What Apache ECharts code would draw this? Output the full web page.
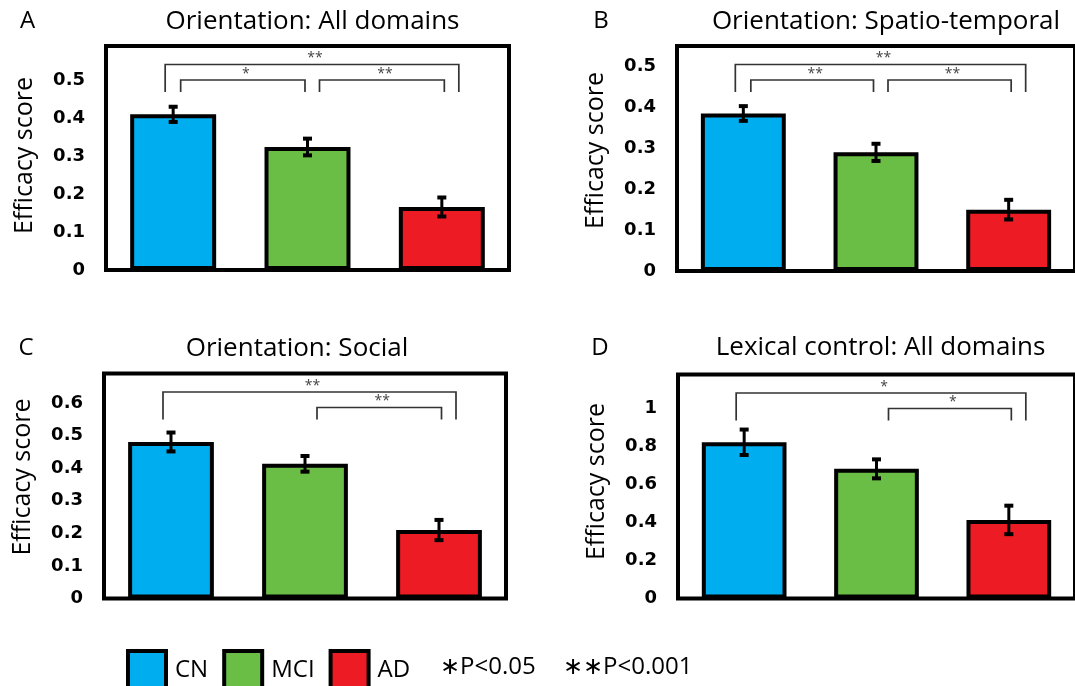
<!DOCTYPE html>
<html><head><meta charset="utf-8">
<script src="https://cdn.jsdelivr.net/npm/echarts@6/dist/echarts.min.js"></script>
<style>html,body{margin:0;padding:0;background:#fff}#c{width:1075px;height:686px}</style>
</head><body><div id="c"></div>
<script>
const groups = ['CN', 'MCI', 'AD'];
const groupColors = ['#00AEEF', '#6ABD45', '#ED1C24'];
const panelLetters = ['A', 'B', 'C', 'D'];
const panelTitles = ['Orientation: All domains', 'Orientation: Spatio-temporal', 'Orientation: Social', 'Lexical control: All domains'];
const yName = 'Efficacy score';

const meanA = [0.41, 0.324, 0.166];
const errA  = [0.02, 0.022, 0.025];
const meanB = [0.385, 0.29, 0.15];
const errB  = [0.018, 0.021, 0.024];
const meanC = [0.48, 0.413, 0.21];
const errC  = [0.029, 0.024, 0.031];
const meanD = [0.823, 0.683, 0.414];
const errD  = [0.067, 0.05, 0.075];

const yMax = [0.59, 0.55, 0.69, 1.18];
const yInterval = [0.1, 0.1, 0.1, 0.2];

// significance brackets: [fromGroup, toGroup, label]
const sigA = [[0, 2, '**'], [0, 1, '*'], [1, 2, '**']];
const sigB = [[0, 2, '**'], [0, 1, '**'], [1, 2, '**']];
const sigC = [[0, 2, '**'], [1, 2, '**']];
const sigD = [[0, 2, '*'], [1, 2, '*']];

const legendNotes = ['\u2217P<0.05', '\u2217\u2217P<0.001'];

const means = [meanA, meanB, meanC, meanD];
const errs = [errA, errB, errC, errD];
const sigs = [sigA, sigB, sigC, sigD];

const gridBoxes = [
  {left: 106, top: 46, width: 403, height: 224},
  {left: 677, top: 46, width: 405, height: 225},
  {left: 104, top: 373.5, width: 402, height: 225},
  {left: 678, top: 374.5, width: 405, height: 224}
];
const namePad = [5, 16, 18, 10];
const letterPos = [[27.5, 21.5], [601, 21.5], [26, 348], [600, 348]];
const titlePos = [[312.5, 21.5], [886, 21.5], [297, 348.3], [880.5, 348]];
const notePos = [[440, 667], [563, 667]];

const FONT = 'Open Sans';

const grids = [], xAxes = [], yAxes = [], series = [], graphics = [];

for (let p = 0; p < 4; p++) {
  grids.push(Object.assign({show: true, borderColor: '#000', borderWidth: 4, backgroundColor: 'transparent', containLabel: false}, gridBoxes[p]));
  xAxes.push({gridIndex: p, type: 'category', data: groups,
    axisLine: {show: false}, axisTick: {show: false}, axisLabel: {show: false}, splitLine: {show: false}});
  yAxes.push({gridIndex: p, type: 'value', min: 0, max: yMax[p], interval: yInterval[p],
    axisLine: {show: false}, axisTick: {show: false}, splitLine: {show: false},
    axisLabel: {showMaxLabel: false, margin: 21, fontSize: 18, fontWeight: 'bold', color: '#000', fontFamily: 'DejaVu Sans'},
    name: yName, nameLocation: 'middle', nameGap: 69,
    nameTextStyle: {fontSize: 25, color: '#000', fontFamily: FONT, padding: [0, 0, 0, namePad[p]]}});
  for (let g = 0; g < 3; g++) {
    series.push({type: 'bar', name: groups[g], xAxisIndex: p, yAxisIndex: p,
      data: groups.map((_, k) => k === g ? means[p][g] : '-'),
      barWidth: '64%', barGap: '-100%',
      itemStyle: {color: groupColors[g], borderColor: '#000', borderWidth: 4},
      z: 2, silent: true});
  }
  const pe = p;
  series.push({type: 'custom', xAxisIndex: p, yAxisIndex: p, z: 5, silent: true, clip: false,
    data: means[p].map((m, k) => [k, m, errs[p][k]]),
    renderItem: function (params, api) {
      const x = api.value(0), m = api.value(1), e = api.value(2);
      const t = api.coord([x, m + e]), b = api.coord([x, m - e]);
      const cw = 9;
      const st = {stroke: '#000', lineWidth: 3};
      const sc = {stroke: '#000', lineWidth: 4};
      return {type: 'group', children: [
        {type: 'line', shape: {x1: t[0], y1: t[1], x2: b[0], y2: b[1]}, style: st},
        {type: 'line', shape: {x1: t[0] - cw / 2, y1: t[1], x2: t[0] + cw / 2, y2: t[1]}, style: sc},
        {type: 'line', shape: {x1: b[0] - cw / 2, y1: b[1], x2: b[0] + cw / 2, y2: b[1]}, style: sc}
      ]};
    }});
  series.push({type: 'custom', xAxisIndex: p, yAxisIndex: p, z: 6, silent: true, clip: false,
    data: sigs[p].map(s => [s[0], 0]),
    renderItem: function (params, api) {
      const s = sigs[pe][params.dataIndex];
      const from = s[0], to = s[1], label = s[2];
      const cs = params.coordSys;
      const outer = (to - from) >= 2;
      const c1 = api.coord([from, 0])[0], c2 = api.coord([to, 0])[0];
      const x1 = c1 + (outer ? -8 : (from === 0 ? 7.5 : 12));
      const x2 = c2 + (outer ? 17 : (to === 1 ? -2.5 : 2.5));
      const yLine = cs.y + (outer ? 18.5 : 34);
      const yLeg = cs.y + 46;
      return {type: 'group', children: [
        {type: 'polyline', shape: {points: [[x1, yLeg], [x1, yLine], [x2, yLine], [x2, yLeg]]},
          style: {stroke: '#333', lineWidth: 1.7, fill: null}},
        {type: 'text', style: {text: label, x: (x1 + x2) / 2 + 3, y: yLine - 6, fill: '#444',
          fontSize: 14, fontFamily: FONT, align: 'center', verticalAlign: 'middle'}}
      ]};
    }});
  graphics.push({type: 'text', x: letterPos[p][0], y: letterPos[p][1],
    style: {text: panelLetters[p], fontSize: 24, fontFamily: FONT, fill: '#000', align: 'center', verticalAlign: 'middle'}});
  graphics.push({type: 'text', x: titlePos[p][0], y: titlePos[p][1],
    style: {text: panelTitles[p], fontSize: 26, fontFamily: FONT, fill: '#000', align: 'center', verticalAlign: 'middle'}});
}
legendNotes.forEach((t, i) => {
  graphics.push({type: 'text', x: notePos[i][0], y: notePos[i][1],
    style: {text: t, fontSize: 24, fontFamily: FONT, fill: '#000', align: 'left', verticalAlign: 'middle'}});
});

const chart = echarts.init(document.getElementById('c'), null, {renderer: 'canvas'});
chart.setOption({
  animation: false,
  backgroundColor: '#fff',
  grid: grids, xAxis: xAxes, yAxis: yAxes, series: series,
  legend: {data: groups, left: 126, top: 649, padding: 0, itemWidth: 38, itemHeight: 38, itemGap: 14,
    icon: 'rect', selectedMode: false,
    itemStyle: {borderColor: '#000', borderWidth: 4},
    textStyle: {fontSize: 24, fontFamily: FONT, color: '#000', padding: [0, 0, 0, 4]}},
  graphic: graphics
});
</script></body></html>
